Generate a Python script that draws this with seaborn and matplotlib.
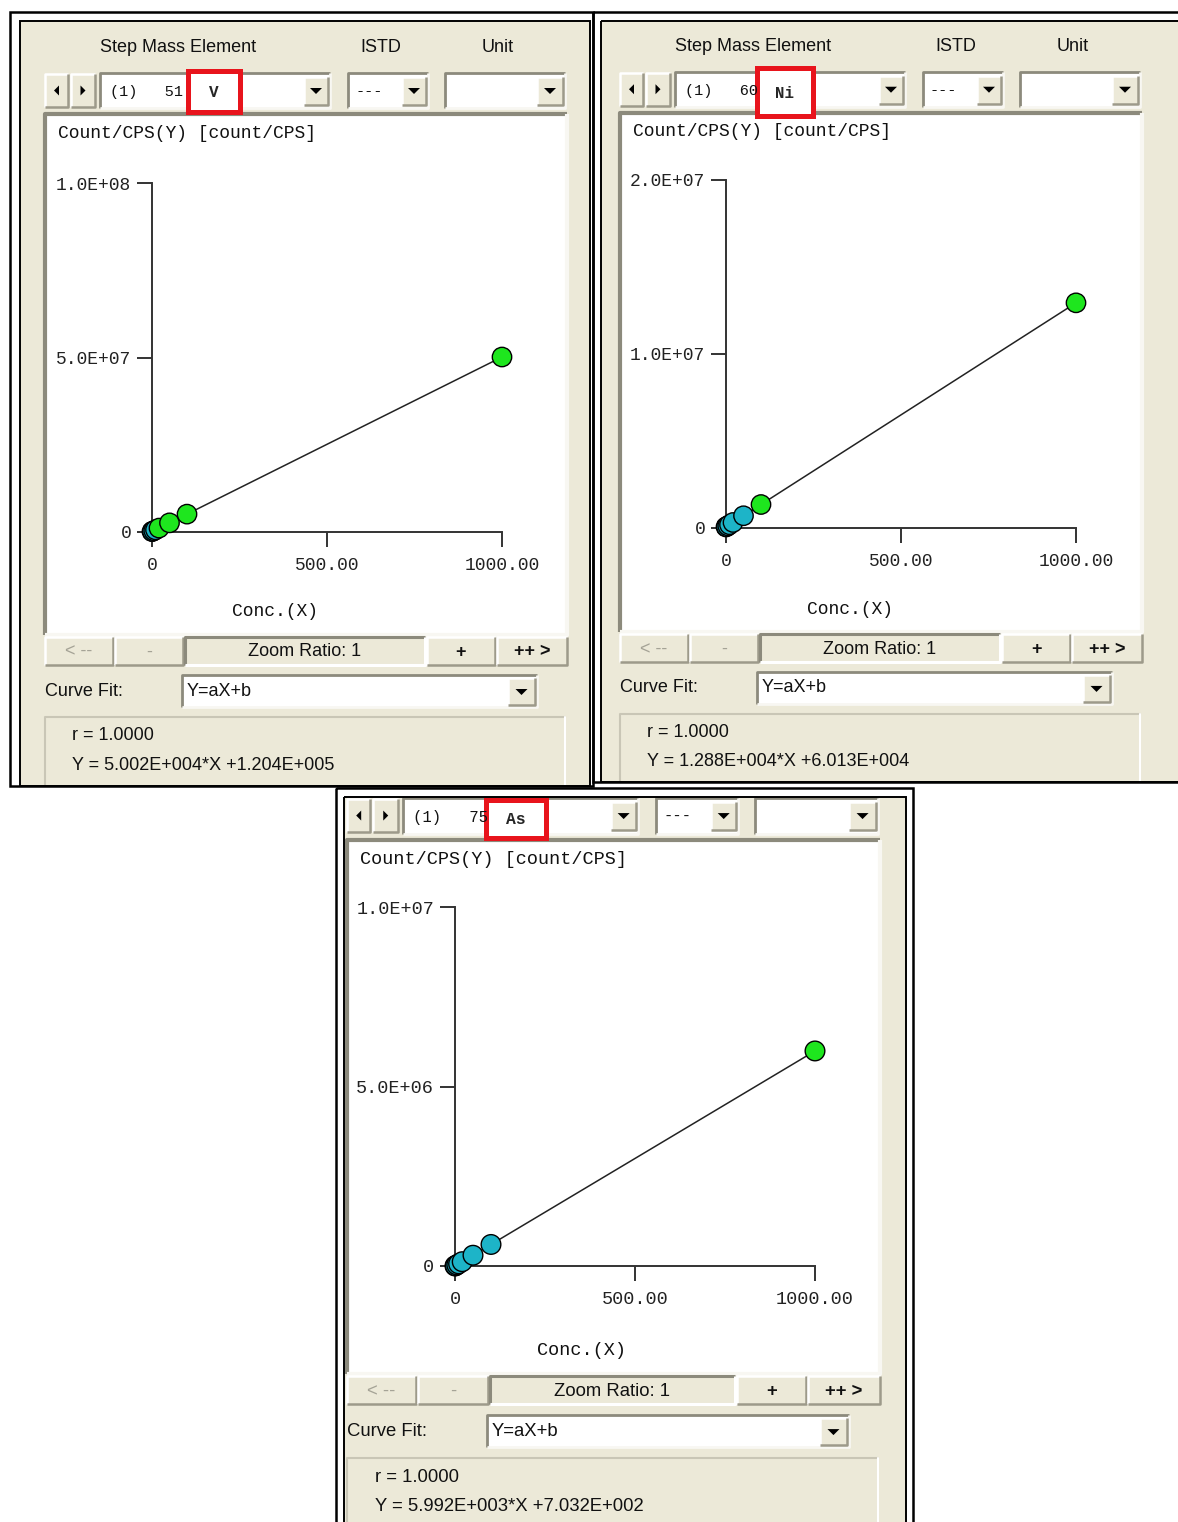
import pandas as pd
import matplotlib
matplotlib.use('Agg')
import matplotlib.pyplot as plt
from matplotlib.patches import Rectangle, Polygon
import seaborn as sns

sns.set_style('white')
plt.rcParams['font.family'] = ['Liberation Sans', 'DejaVu Sans']

W, H = 1178, 1522

# calibration standards
conc = [0, 1, 5, 10, 20, 50, 100, 1000]
cps_v = [1.2e5, 1.7e5, 3.7e5, 6.2e5, 1.12e6, 2.62e6, 5.12e6, 5.014e7]
cps_ni = [6.0e4, 7.3e4, 1.24e5, 1.89e5, 3.18e5, 7.04e5, 1.35e6, 1.294e7]
cps_as = [7.0e2, 6.7e3, 3.07e4, 6.06e4, 1.20e5, 3.0e5, 6.0e5, 5.99e6]
grp_v = ['low', 'low', 'low', 'low', 'high', 'high', 'high', 'high']
grp_ni = ['low', 'low', 'low', 'low', 'low', 'low', 'high', 'high']
grp_as = ['low', 'low', 'low', 'low', 'low', 'low', 'low', 'high']

elements = ['V', 'Ni', 'As']
masses = ['51', '60', '75']
y_max = [1e8, 2e7, 1e7]
y_ticklabels = [['0', '5.0E+07', '1.0E+08'],
                ['0', '1.0E+07', '2.0E+07'],
                ['0', '5.0E+06', '1.0E+07']]
x_ticklabels = ['0', '500.00', '1000.00']
r_text = ['r = 1.0000', 'r = 1.0000', 'r = 1.0000']
eq_text = ['Y = 5.002E+004*X +1.204E+005',
           'Y = 1.288E+004*X +6.013E+004',
           'Y = 5.992E+003*X +7.032E+002']

BEIGE = '#ECE9D8'
DARK = '#8C8A7C'
CYAN = '#1DB4C8'
GREEN = '#1EE61E'
RED = '#E8141C'
MONO = 'Liberation Mono'

fig = plt.figure(figsize=(W / 100, H / 100), dpi=100)
bg = fig.add_axes([0, 0, 1, 1])
bg.set_xlim(0, W)
bg.set_ylim(H, 0)
bg.axis('off')


def rect(x0, y0, x1, y1, fc, ec='none', lw=0, z=1):
    bg.add_patch(Rectangle((x0, y0), x1 - x0, y1 - y0, fc=fc, ec=ec, lw=lw, zorder=z))


def edges(x0, y0, x1, y1, tl, br, lw=1.5, z=2):
    bg.plot([x0, x0, x1], [y1, y0, y0], color=tl, lw=lw, zorder=z, solid_capstyle='butt')
    bg.plot([x0, x1, x1], [y1, y1, y0], color=br, lw=lw, zorder=z, solid_capstyle='butt')


def button(x0, y0, x1, y1, pressed=False):
    rect(x0, y0, x1, y1, BEIGE, z=2)
    if pressed:
        edges(x0, y0, x1, y1, DARK, 'white', lw=2.2, z=3)
    else:
        edges(x0, y0, x1, y1, 'white', '#9D9A8A', lw=1.8, z=3)


def field(x0, y0, x1, y1, fc='white', lw=2.0):
    rect(x0, y0, x1, y1, fc, z=1.5)
    edges(x0, y0, x1, y1, DARK, '#F8F7F2', lw=lw, z=2)


def tri(cx, cy, s, d):
    if d == 'down':
        pts = [(cx - s, cy - s / 2), (cx + s, cy - s / 2), (cx, cy + s / 2)]
    elif d == 'left':
        pts = [(cx + s / 2, cy - s), (cx + s / 2, cy + s), (cx - s / 2, cy)]
    else:
        pts = [(cx - s / 2, cy - s), (cx - s / 2, cy + s), (cx + s / 2, cy)]
    bg.add_patch(Polygon(pts, closed=True, fc='black', ec='none', zorder=4))


def txt(x, y, s, size=13, family=None, ha='left', color='#111111', weight='normal'):
    kw = {}
    if family:
        kw['family'] = family
    bg.text(x, y, s, fontsize=size, ha=ha, va='center', color=color,
            weight=weight, zorder=5, **kw)


def frame(outer, inner):
    rect(*outer, 'white', z=0.5)
    rect(*inner, BEIGE, z=0.6)
    rect(*outer, 'none', ec='black', lw=1.8, z=6)
    rect(*inner, 'none', ec='black', lw=1.4, z=6)


def panel(i, dx, dy, sx, sy, header, redbox, plotpx, cps, grp, bottom):
    X = lambda x: dx + sx * x
    Y = lambda y: dy + sy * y
    fs = 13 * sy

    if header:
        txt(X(178), Y(48), 'Step Mass Element', fs, ha='center')
        txt(X(381), Y(48), 'ISTD', fs, ha='center')
        txt(X(498), Y(48), 'Unit', fs, ha='center')

    # combo row
    button(X(45), Y(74), X(68), Y(107))
    tri(X(56.5), Y(90.5), 5, 'left')
    button(X(71), Y(74), X(95), Y(107))
    tri(X(83), Y(90.5), 5, 'right')
    field(X(100), Y(73), X(330), Y(108))
    button(X(304), Y(77), X(328), Y(105))
    tri(X(316), Y(91), 6, 'down')
    txt(X(110), Y(92), '(1)   ' + masses[i], 11 * sy, family=MONO)
    bx0, by0, bx1, by1 = redbox
    rect(bx0, by0, bx1, by1, 'white', ec=RED, lw=3.6, z=4.5)
    bg.text((bx0 + bx1) / 2, (by0 + by1) / 2 + 1, elements[i], fontsize=11.5 * sy,
            family=MONO, weight='bold', ha='center', va='center', zorder=5)
    field(X(348), Y(73), X(428), Y(108))
    txt(X(355), Y(91), '---', 11 * sy, family=MONO)
    button(X(402), Y(77), X(426), Y(105))
    tri(X(414), Y(91), 6, 'down')
    field(X(445), Y(73), X(565), Y(108))
    button(X(537), Y(77), X(563), Y(105))
    tri(X(550), Y(91), 6, 'down')

    # plot area
    field(X(45), Y(114), X(567), Y(635), lw=3.0)
    txt(X(58), Y(133), 'Count/CPS(Y) [count/CPS]', fs, family=MONO)
    txt(X(275), Y(612), 'Conc.(X)', fs, family=MONO, ha='center')

    # zoom buttons
    labels = ['< --', '-', 'Zoom Ratio: 1', '+', '++ >']
    bounds = [(45, 113), (115, 183), (185, 425), (427, 495), (497, 567)]
    for k, (lab, (a, b)) in enumerate(zip(labels, bounds)):
        button(X(a), Y(637), X(b), Y(665), pressed=(k == 2))
        col = '#A5A396' if k < 2 else '#111111'
        wt = 'bold' if k > 2 else 'normal'
        txt((X(a) + X(b)) / 2, Y(652), lab, fs, ha='center', color=col, weight=wt)

    # curve fit row
    txt(X(45), Y(691), 'Curve Fit:', fs)
    field(X(182), Y(675), X(537), Y(707))
    txt(X(187), Y(691), 'Y=aX+b', fs)
    button(X(508), Y(678), X(535), Y(705))
    tri(X(521.5), Y(692), 6, 'down')

    # result box, cut off by the window bottom
    rect(X(45), Y(717), X(565), bottom, BEIGE, z=1.5)
    bg.plot([X(45), X(45), X(565)], [bottom, Y(717), Y(717)], color='#C9C6B6', lw=1.5, zorder=2)
    bg.plot([X(565), X(565)], [Y(717), bottom], color='white', lw=1.5, zorder=2)
    txt(X(72), Y(736), r_text[i], fs)
    txt(X(72), Y(765), eq_text[i], fs)

    # the calibration chart itself
    x0, x1, y0, y1 = plotpx
    ax = fig.add_axes([x0 / W, 1 - y0 / H, (x1 - x0) / W, (y0 - y1) / H])
    df = pd.DataFrame({'conc': conc, 'cps': cps, 'grp': grp})
    sns.lineplot(data=df, x='conc', y='cps', color='#222222', lw=1.1,
                 estimator=None, ax=ax, zorder=2)
    sns.scatterplot(data=df, x='conc', y='cps', hue='grp',
                    palette={'low': CYAN, 'high': GREEN}, s=195 * sy,
                    edgecolor='black', linewidth=1.0, legend=False,
                    ax=ax, zorder=3, clip_on=False)
    ax.set_xlim(0, 1000)
    ax.set_ylim(0, y_max[i])
    ax.patch.set_alpha(0)
    for sp in ['top', 'right']:
        ax.spines[sp].set_visible(False)
    for sp in ['left', 'bottom']:
        ax.spines[sp].set_color('#333333')
        ax.spines[sp].set_linewidth(1.4)
    ax.set_xticks([0, 500, 1000])
    ax.set_xticklabels(x_ticklabels, family=MONO, fontsize=fs, color='#222222')
    ax.set_yticks([0, y_max[i] / 2, y_max[i]])
    ax.set_yticklabels(y_ticklabels[i], family=MONO, fontsize=fs, color='#222222')
    ax.tick_params(bottom=True, left=True, direction='out', length=11,
                   width=1.4, color='#333333', pad=4)
    ax.tick_params(axis='x', pad=7)
    ax.set_xlabel('')
    ax.set_ylabel('')


# frames
frame((10, 12, 593, 786), (20, 21, 590, 786))
frame((593, 12, 1190, 782), (601, 21, 1190, 782))
frame((336, 788, 913, 1530), (344, 797, 906, 1530))

panel(0, 0, 0, 1.0, 1.0, True, (188, 71, 240, 112), (152, 502, 532, 183),
      cps_v, grp_v, 786)
panel(1, 575, -1, 1.0, 0.997, True, (757, 68, 813, 116), (726, 1076, 528, 180),
      cps_ni, grp_ni, 782)
panel(2, 301, 722.8, 1.021, 1.025, False, (486, 800, 546, 838), (455, 815, 1266, 907),
      cps_as, grp_as, 1530)

fig.savefig('out.png', dpi=100)
